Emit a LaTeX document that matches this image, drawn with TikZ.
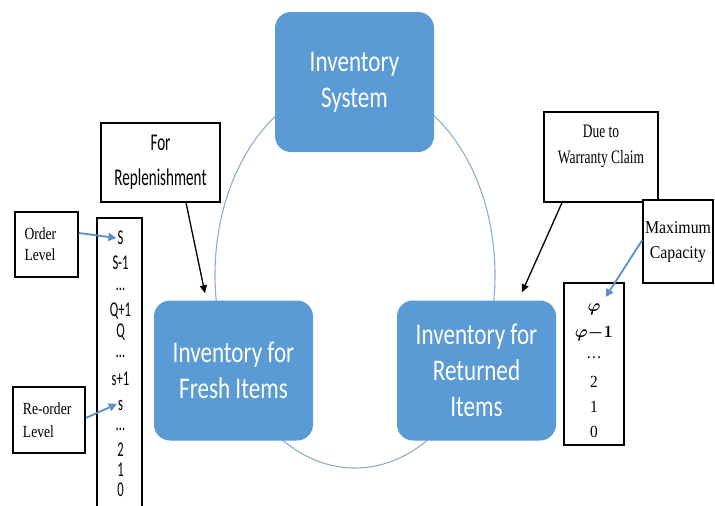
\documentclass[tikz,border=0pt]{standalone}
\usepackage{amsmath}
\usepackage{amsbsy}
\usepackage{fontspec}
\usetikzlibrary{arrows.meta,calc}
\newfontfamily\boxfont[FakeStretch=0.77]{Carlito}
\newfontfamily\labsans[FakeStretch=0.63]{Carlito}
\newfontfamily\labserif[FakeStretch=0.8]{Liberation Serif}
\newfontfamily\dueserif[FakeStretch=0.71]{Liberation Serif}
\newfontfamily\maxserif[FakeStretch=0.88]{Liberation Serif}
\newfontfamily\listfont[FakeStretch=0.6]{Carlito}
\newfontfamily\serifplain[FakeStretch=0.9]{Liberation Serif}
\definecolor{boxblue}{HTML}{5B9BD5}
\definecolor{arrblue}{HTML}{5A8FC8}
\definecolor{ringc}{HTML}{8EAFCB}
\newcommand{\myphi}{\ensuremath{\boldsymbol{\varphi}}}
\begin{document}
\begin{tikzpicture}[x=1pt,y=-1pt,
  bluebox/.style={rounded corners=16pt, fill=boxblue, minimum width=159pt, minimum height=140pt,
    text=white, align=center, font=\boxfont\fontsize{30}{36}\selectfont, inner sep=0pt},
  labbox/.style={draw=black, line width=1.4pt, fill=white, inner sep=0pt, align=center},
  blackarr/.style={line width=1.3pt, -{Triangle[length=8pt,width=7pt]}},
  bluearr/.style={draw=arrblue, line width=1.8pt, -{Triangle[length=8pt,width=8pt]}, arrblue},
  listitem/.style={font=\listfont\fontsize{21}{21}\selectfont, inner sep=1pt, text height=13pt, text depth=0pt},
  phiitem/.style={font=\serifplain\fontsize{17}{17}\selectfont, inner sep=1pt, text height=11.5pt, text depth=0pt},
  ring/.style={draw=ringc, line width=1.1pt}
]
\useasboundingbox (0,0) rectangle (715,506);
\fill[white] (0,0) rectangle (715,506);
\clip (0,0) rectangle (715,506);

\draw[ring] (355,275) ellipse [x radius=140, y radius=193];

\node[bluebox] (sys) at (354.5,82) {Inventory\\System};
\node[bluebox] (fresh) at (233.5,370.5) {Inventory for\\Fresh Items};
\node[bluebox] (ret) at (476.5,370.5) {Inventory for\\Returned\\Items};

\node[labbox, minimum width=119pt, minimum height=79pt,
  font=\labsans\fontsize{24}{35}\selectfont] (rep) at (160.5,162.5) {For\\Replenishment};

\node[labbox, minimum width=63pt, minimum height=65pt,
  font=\labserif\fontsize{17}{21}\selectfont, text width=44pt, align=left] (ord) at (46.5,244.5) {Order\\Level};
\node[labbox, minimum width=72pt, minimum height=66pt,
  font=\labserif\fontsize{17}{23}\selectfont, text width=52pt, align=left] (reord) at (49,420) {Re-order\\Level};

\node[labbox, minimum width=114pt, minimum height=90pt] (due) at (601,157) {};
\node[font=\dueserif\fontsize{19}{26}\selectfont, align=center] (duetxt) at (601,146) {Due to\\Warranty Claim};

\node[labbox, minimum width=70pt, minimum height=83pt,
  font=\maxserif\fontsize{18}{25}\selectfont] (max) at (678,241.5) {Maximum\\Capacity};

% left list
\node[labbox, minimum width=45pt, minimum height=300pt] (slist) at (119.5,368) {};
\node[listitem] (sS)  at (120.5,238) {S};
\node[listitem] (sS1) at (120.5,263) {S-1};
\node[listitem] (sd1) at (120.5,284) {…};
\node[listitem] (sQ1) at (120.5,310) {Q+1};
\node[listitem] (sQ)  at (120.5,331) {Q};
\node[listitem] (sd2) at (120.5,351) {…};
\node[listitem] (ss1) at (120.5,379) {s+1};
\node[listitem] (ss)  at (120.5,404) {s};
\node[listitem] (sd3) at (120.5,424) {…};
\node[listitem] (s2)  at (120.5,450) {2};
\node[listitem] (s1)  at (120.5,470) {1};
\node[listitem] (s0)  at (120.5,490) {0};

% right list
\node[labbox, minimum width=60pt, minimum height=162pt] (plist) at (594,364) {};
\node[phiitem] (pphi) at (594,306) {\myphi};
\node[phiitem] (pphm) at (594,332) {\myphi\ensuremath{\boldsymbol{-1}}};
\node[phiitem] (pd)   at (594,353) {…};
\node[phiitem] (p2)   at (594,382) {2};
\node[phiitem] (p1)   at (594,407) {1};
\node[phiitem] (p0)   at (594,432) {0};

% connectors
\draw[blackarr] ($(rep.south)+(25.5,0)$) -- ($(fresh.north)+(-28.5,-7)$);
\draw[blackarr] ($(due.south)+(-39,0)$) -- ($(ret.north)+(45.5,-8)$);
\draw[bluearr] ($(ord.east)+(0,-11.5)$) -- (sS.west);
\draw[bluearr] ($(reord.east)+(0,-2)$) -- (ss.west);
\draw[bluearr] ($(max.west)+(0,-1.5)$) -- ($(pphi.north east)+(4,-2)$);
\end{tikzpicture}
\end{document}
